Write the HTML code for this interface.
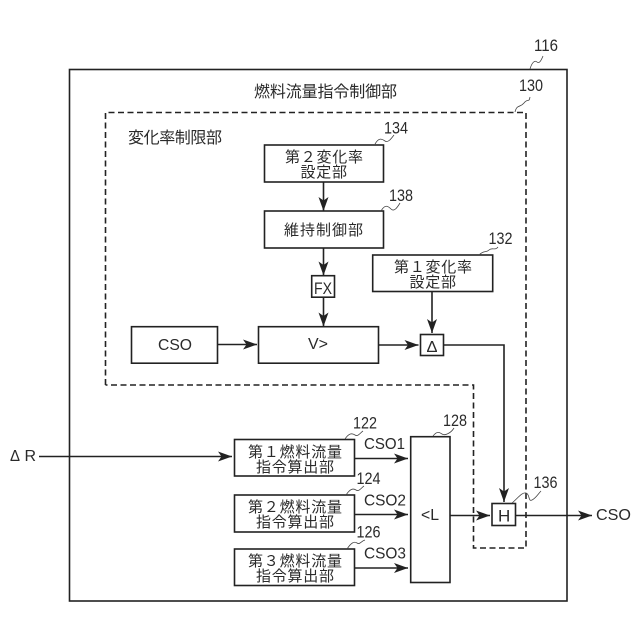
<!DOCTYPE html>
<html><head><meta charset="utf-8"><style>
html,body{margin:0;padding:0;background:#fff}
svg{display:block}
text{font-family:"Liberation Sans","Noto Sans CJK JP",sans-serif;fill:#2a2a2a;font-size:16px}
.j{font-size:15px}
.n{font-size:16.500px}
.b{fill:#fff;stroke:#222;stroke-width:1.6}
.l{fill:none;stroke:#222;stroke-width:1.6}
.w{fill:none;stroke:#444;stroke-width:.8}
</style></head><body>
<svg width="640" height="640" viewBox="0 0 640 640" xmlns="http://www.w3.org/2000/svg">
<defs><marker id="a" markerUnits="userSpaceOnUse" markerWidth="16" markerHeight="12" refX="14" refY="6" orient="auto"><path d="M0 1L14 6L0 11L3.500 6Z" fill="#222"/></marker></defs>
<rect class="b" x="69.500" y="69.500" width="497.500" height="531.500"/>
<path class="l" stroke-dasharray="6 3.500" d="M105.500 385V112.500H526V548H473.500V385H105.500"/>

<rect class="b" x="264.500" y="145" width="119" height="37"/>
<rect class="b" x="264.500" y="211" width="119" height="37"/>
<rect class="b" x="372.700" y="255" width="120" height="36.500"/>
<rect class="b" x="311.700" y="275.700" width="22.800" height="21.500"/>
<rect class="b" x="131.500" y="326.700" width="86" height="36.500"/>
<rect class="b" x="258.500" y="326.700" width="120" height="36.500"/>
<rect class="b" x="420.500" y="334.500" width="23" height="21"/>
<rect class="b" x="234.500" y="439.500" width="120" height="36.500"/>
<rect class="b" x="234.500" y="495" width="120" height="37"/>
<rect class="b" x="234.500" y="549" width="120" height="36.500"/>
<rect class="b" x="410.700" y="436.700" width="39.300" height="145.800"/>
<rect class="b" x="492" y="503.500" width="23.500" height="22"/>

<g class="l">
<path d="M323.500 182V211" marker-end="url(#a)"/>
<path d="M323.500 248V275.500" marker-end="url(#a)"/>
<path d="M323.500 297V326.500" marker-end="url(#a)"/>
<path d="M432 291.500V333" marker-end="url(#a)"/>
<path d="M218 344.500H257" marker-end="url(#a)"/>
<path d="M379 345H418.500" marker-end="url(#a)"/>
<path d="M443.500 345H504V502" marker-end="url(#a)"/>
<path d="M39 456.500H232" marker-end="url(#a)"/>
<path d="M354.500 458.500H408" marker-end="url(#a)"/>
<path d="M354.500 514.500H408" marker-end="url(#a)"/>
<path d="M354.500 568H408" marker-end="url(#a)"/>
<path d="M450 515.500H490" marker-end="url(#a)"/>
<path d="M515.500 515.500H592" marker-end="url(#a)"/>
</g>

<g class="w">
<path d="M530 69C532 62 535 60 537 62S541 61 543 56"/>
<path d="M515 112C517 104 520 108 524 103S529 103 530 97"/>
<path d="M375 144C379 137 382 139 385 141S391 139 394 135"/>
<path d="M381 211C385 204 388 206 391 209S397 208 400 203"/>
<path d="M479 255C484 250 486 253 489 250S495 251 498 247"/>
<path d="M345 439C349 433 352 433 355 435S360 433 363 431"/>
<path d="M346 495C350 489 353 488 356 490S361 488 364 486"/>
<path d="M347 549C351 543 354 541 357 543S361 541 365 540"/>
<path d="M433 436C437 431 439 432 442 434S451 433 454 428"/>
<path d="M512 503C518 498 522 492 526 493S528 502 532 500S538 494 541 491"/>
</g>

<text x="254" y="97" textLength="143" lengthAdjust="spacing">燃料流量指令制御部</text>
<text x="128" y="143" textLength="94" lengthAdjust="spacing">変化率制限部</text>

<text class="j" x="285" y="162" textLength="78" lengthAdjust="spacing">第２変化率</text>
<text class="j" x="300.500" y="177" textLength="46.500" lengthAdjust="spacing">設定部</text>
<text class="j" x="284" y="235" textLength="79" lengthAdjust="spacing">維持制御部</text>
<text class="j" x="394" y="272" textLength="78" lengthAdjust="spacing">第１変化率</text>
<text class="j" x="409.500" y="287" textLength="46.500" lengthAdjust="spacing">設定部</text>
<text class="j" x="248" y="457" textLength="94" lengthAdjust="spacing">第１燃料流量</text>
<text class="j" x="256" y="472" textLength="78" lengthAdjust="spacing">指令算出部</text>
<text class="j" x="248" y="512" textLength="94" lengthAdjust="spacing">第２燃料流量</text>
<text class="j" x="256" y="527" textLength="78" lengthAdjust="spacing">指令算出部</text>
<text class="j" x="248" y="566" textLength="94" lengthAdjust="spacing">第３燃料流量</text>
<text class="j" x="256" y="581" textLength="78" lengthAdjust="spacing">指令算出部</text>

<text x="158" y="350" textLength="34" lengthAdjust="spacingAndGlyphs">CSO</text>
<text x="308" y="349" textLength="20" lengthAdjust="spacingAndGlyphs">V&gt;</text>
<text x="314" y="294" textLength="18" lengthAdjust="spacingAndGlyphs" style="font-size:17px">FX</text>
<text x="426.500" y="352" textLength="11" lengthAdjust="spacingAndGlyphs">Δ</text>
<text x="498" y="521.500" style="font-size:17px">H</text>
<text x="421" y="520" textLength="18" lengthAdjust="spacingAndGlyphs">&lt;L</text>
<text x="10" y="461" textLength="10" lengthAdjust="spacingAndGlyphs">Δ</text><text x="24.500" y="461">R</text>
<text x="596" y="520" textLength="35" lengthAdjust="spacingAndGlyphs">CSO</text>
<text x="364" y="449" textLength="41" lengthAdjust="spacingAndGlyphs">CSO1</text>
<text x="364" y="505.500" textLength="42" lengthAdjust="spacingAndGlyphs">CSO2</text>
<text x="364" y="558.500" textLength="42" lengthAdjust="spacingAndGlyphs">CSO3</text>

<text class="n" x="534" y="51" textLength="24" lengthAdjust="spacingAndGlyphs">116</text>
<text class="n" x="519" y="91" textLength="24" lengthAdjust="spacingAndGlyphs">130</text>
<text class="n" x="384" y="133.500" textLength="24" lengthAdjust="spacingAndGlyphs">134</text>
<text class="n" x="389" y="201" textLength="24" lengthAdjust="spacingAndGlyphs">138</text>
<text class="n" x="488.500" y="244" textLength="24" lengthAdjust="spacingAndGlyphs">132</text>
<text class="n" x="353" y="428.500" textLength="24" lengthAdjust="spacingAndGlyphs">122</text>
<text class="n" x="356.500" y="484" textLength="24" lengthAdjust="spacingAndGlyphs">124</text>
<text class="n" x="356.500" y="537.500" textLength="24" lengthAdjust="spacingAndGlyphs">126</text>
<text class="n" x="443" y="426" textLength="24" lengthAdjust="spacingAndGlyphs">128</text>
<text class="n" x="533.500" y="488" textLength="24" lengthAdjust="spacingAndGlyphs">136</text>
</svg>
</body></html>
